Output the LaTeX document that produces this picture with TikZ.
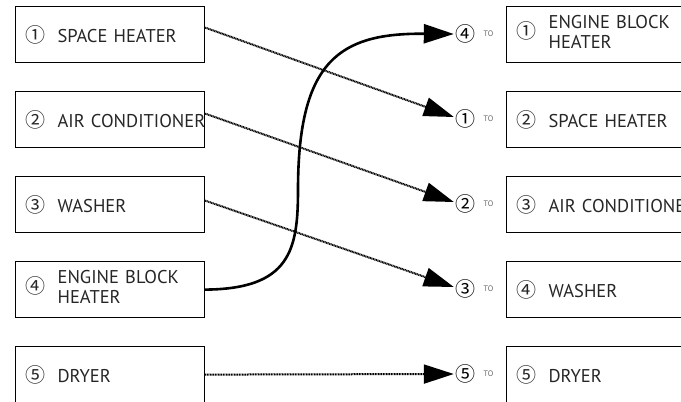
\documentclass[tikz,border=0pt]{standalone}
\usepackage{fontspec}
\setmainfont{PT Sans}
\newfontfamily\circfont{Noto Sans CJK SC}
\usetikzlibrary{arrows.meta,positioning}
\newcommand{\cnum}[1]{{\circfont\fontsize{20}{20}\selectfont #1}}
\begin{document}
\begin{tikzpicture}[
    x=1pt, y=-1pt,
    item/.style={rectangle,draw,line width=1.2pt,anchor=north west,minimum height=56pt,
                 text width=169pt,align=left,inner xsep=10pt,text=black!85,
                 font=\fontsize{18.5}{20}\selectfont},
    mid/.style={inner sep=1pt},
    tolbl/.style={font=\fontsize{8}{9}\selectfont,text=black!60},
    dotline/.style={line width=2pt,dash pattern=on 1pt off 0.6pt},
    tip/.style={-{Triangle[length=30pt,width=19pt]}},
    >=Stealth
  ]
  \clip (0,0) rectangle (681,402);
  % Left boxes
  \foreach \i/\c/\t in {1/①/SPACE HEATER, 2/②/AIR CONDITIONER, 3/③/WASHER,
      4/④/{\begin{tabular}{@{}l@{}}ENGINE BLOCK\\HEATER\end{tabular}}, 5/⑤/DRYER} {
    \node[item] (l\i) at (15,{6+85*(\i-1)}) {\mbox{\cnum{\c}\hspace{12pt}\t}};
  }
  % Right boxes
  \foreach \i/\c/\t in {1/①/{\begin{tabular}{@{}l@{}}ENGINE BLOCK\\HEATER\end{tabular}},
      2/②/SPACE HEATER, 3/③/AIR CONDITIONER, 4/④/WASHER, 5/⑤/DRYER} {
    \node[item] (r\i) at (506,{6+85*(\i-1)}) {\mbox{\cnum{\c}\hspace{12pt}\t}};
  }
  % New positions
  \foreach \i/\c in {1/④, 2/①, 3/②, 4/③, 5/⑤} {
    \node[mid] (m\i) at (465,{34+85*(\i-1)}) {\cnum{\c}};
    \node[tolbl,right=4pt of m\i] (to\i) {TO};
  }
  % Moves
  \draw[dotline,tip] ([yshift=7pt]l1.east) -- ([yshift=2pt]m2.west);
  \draw[dotline,tip] ([yshift=6pt]l2.east) -- ([yshift=2pt]m3.west);
  \draw[dotline,tip] ([yshift=4pt]l3.east) -- ([yshift=2pt]m4.west);
  \draw[dotline,tip] (l5.east) -- (m5.west);
  \draw[line width=2.6pt,tip] (l4.east) .. controls (290,289) and (298,250) .. (298,190)
    .. controls (298,60) and (340,33) .. (m1.west);
\end{tikzpicture}
\end{document}
